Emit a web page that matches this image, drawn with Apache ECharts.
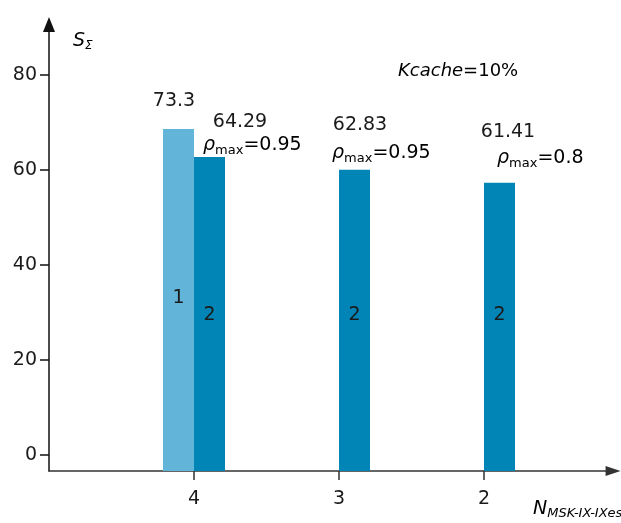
<!DOCTYPE html>
<html>
<head>
<meta charset="utf-8">
<script src="https://cdn.jsdelivr.net/npm/echarts@6/dist/echarts.min.js"></script>
<style>
    html, body { margin: 0; padding: 0; background: #fff; }
    #chart { width: 621px; height: 523px; }
</style>
</head>
<body>
<div id="chart"></div>
<script>
    // number of MSK-IX IXes (x axis)
    const nValues = [4, 3, 2];
    // bar heights
    const series1 = [68.6, null, null];
    const series2 = [62.7, 60.0, 57.3];
    const seriesTags = ['1', '2'];
    // values printed above the bars
    const topLabels1 = ['73.3'];
    const topLabels2 = ['64.29', '62.83', '61.41'];
    const rhoMax = ['0.95', '0.95', '0.8'];
    const yTicks = [0, 20, 40, 60, 80];
    const kCache = '10%';

    const font = 'DejaVu Sans';
    const ink = '#1a1a1a';

    const chart = echarts.init(document.getElementById('chart'));

    const pairs = (vals) => nValues.map((n, i) => [n, vals[i]]).filter(p => p[1] != null);

    // annotation text spots (pixels)
    const valuePos = [[174, 101], [240, 122], [360, 125], [508, 132]];
    const rhoPos = [[203, 145], [332, 153], [497, 158]];

    const rhoRich = {
        r: { fontFamily: font, fontSize: 19, fontStyle: 'italic', color: ink, lineHeight: 24 },
        s: { fontFamily: font, fontSize: 13, color: ink, lineHeight: 14, padding: [12, 0, 0, 0] },
        v: { fontFamily: font, fontSize: 19, color: ink, lineHeight: 24 }
    };

    const graphics = [];
    const allValueLabels = topLabels1.concat(topLabels2);
    allValueLabels.forEach((t, i) => {
        graphics.push({
            type: 'text', x: valuePos[i][0], y: valuePos[i][1],
            style: { text: t, fontFamily: font, fontSize: 19, fill: ink, align: 'center', verticalAlign: 'middle' }
        });
    });
    rhoMax.forEach((r, i) => {
        graphics.push({
            type: 'text', x: rhoPos[i][0], y: rhoPos[i][1],
            style: { text: '{r|ρ}{s|max}{v|=' + r + '}', rich: rhoRich, align: 'left', verticalAlign: 'middle' }
        });
    });
    graphics.push({
        type: 'text', x: 398, y: 71,
        style: {
            text: '{i|Kcache}{v|=' + kCache + '}', align: 'left', verticalAlign: 'middle',
            rich: {
                i: { fontFamily: font, fontSize: 18, fontStyle: 'italic', color: ink },
                v: { fontFamily: font, fontSize: 18, color: ink }
            }
        }
    });
    graphics.push({
        type: 'text', x: 73, y: 41,
        style: {
            text: '{a|S}{b|Σ}', align: 'left', verticalAlign: 'middle',
            rich: {
                a: { fontFamily: font, fontSize: 19, fontStyle: 'italic', color: ink, lineHeight: 22 },
                b: { fontFamily: font, fontSize: 12, fontStyle: 'italic', color: ink, lineHeight: 13, padding: [10, 0, 0, 0] }
            }
        }
    });
    graphics.push({
        type: 'text', x: 533, y: 509,
        style: {
            text: '{a|N}{b|MSK-IX-IXes}', align: 'left', verticalAlign: 'middle',
            rich: {
                a: { fontFamily: font, fontSize: 19, fontStyle: 'italic', color: ink, lineHeight: 22 },
                b: { fontFamily: font, fontSize: 13, fontStyle: 'italic', color: ink, lineHeight: 14, padding: [10, 0, 0, 0] }
            }
        }
    });

    const option = {
        animation: false,
        backgroundColor: '#fff',
        grid: { left: 49, right: 7.95, top: 24.5, bottom: 52, outerBoundsMode: 'none' },
        xAxis: {
            type: 'value',
            inverse: true,
            min: 1.11,
            max: 5,
            axisLine: {
                show: true, onZero: false,
                lineStyle: { color: '#333', width: 1.5 },
                symbol: ['none', 'triangle'], symbolSize: [10, 15]
            },
            axisTick: { show: true, length: 9, customValues: nValues, lineStyle: { color: '#333', width: 1.5 } },
            axisLabel: { customValues: nValues, margin: 19, fontFamily: font, fontSize: 19, color: ink },
            splitLine: { show: false }
        },
        yAxis: {
            type: 'value',
            min: -3.4,
            max: 90.6,
            startValue: -3.4,
            axisLine: {
                show: true,
                lineStyle: { color: '#111', width: 1.5 },
                symbol: ['none', 'triangle'], symbolSize: [12, 15]
            },
            axisTick: { show: true, length: 9, customValues: yTicks, lineStyle: { color: '#111', width: 1.5 } },
            axisLabel: { customValues: yTicks, margin: 12, fontFamily: font, fontSize: 19, color: ink },
            splitLine: { show: false }
        },
        series: [
            {
                type: 'bar',
                data: pairs(series1),
                barWidth: 31,
                barGap: '0%',
                itemStyle: { color: '#62b4d8' },
                label: {
                    show: true, position: 'insideBottom', distance: 163,
                    formatter: seriesTags[0], fontFamily: font, fontSize: 19, color: ink
                }
            },
            {
                type: 'bar',
                data: pairs(series2),
                barWidth: 31,
                barGap: '0%',
                itemStyle: { color: '#0085b6' },
                label: {
                    show: true, position: 'insideBottom', distance: 146,
                    formatter: seriesTags[1], fontFamily: font, fontSize: 19, color: ink
                }
            }
        ],
        graphic: graphics
    };

    chart.setOption(option);
</script>
</body>
</html>
